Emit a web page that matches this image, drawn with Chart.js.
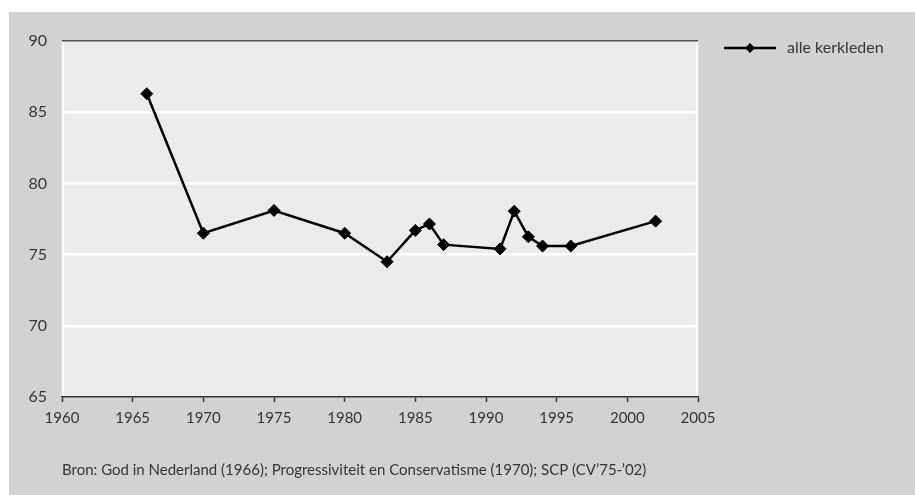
<!DOCTYPE html>
<html>
<head>
<meta charset="utf-8">
<script src="https://cdn.jsdelivr.net/npm/chart.js@4"></script>
<style>
  body { margin: 0; background: #fff; }
  #box { position: absolute; left: 9px; top: 12px; width: 906px; height: 483px; background: #d1d2d4; }
</style>
</head>
<body>
<div id="box"><canvas id="myChart"></canvas></div>
<script>
var years = [1966, 1970, 1975, 1980, 1983, 1985, 1986, 1987, 1991, 1992, 1993, 1994, 1996, 2002];
var kerkleden = [86.3, 76.5, 78.1, 76.5, 74.5, 76.7, 77.15, 75.7, 75.4, 78.05, 76.25, 75.6, 75.6, 77.35];
var seriesName = 'alle kerkleden';
var sourceText = 'Bron: God in Nederland (1966); Progressiviteit en Conservatisme (1970); SCP (CV\u201975-\u201902)';

var points = years.map(function (y, i) { return { x: y, y: kerkleden[i] }; });
var textColor = '#333';
var font = 'Lato';

var extras = {
  id: 'extras',
  beforeDraw: function (chart) {
    var c = chart.ctx, a = chart.chartArea;
    c.save();
    c.fillStyle = '#eaebeb';
    c.fillRect(a.left, a.top, a.right - a.left, a.bottom - a.top);
    c.restore();
  },
  beforeDatasetsDraw: function (chart) {
    var c = chart.ctx, a = chart.chartArea;
    c.save();
    c.strokeStyle = '#fff';
    c.lineWidth = 2.5;
    c.beginPath();
    c.moveTo(a.left + 1, a.top + 1); c.lineTo(a.left + 1, a.bottom - 1);
    c.moveTo(a.right - 1, a.top + 1); c.lineTo(a.right - 1, a.bottom - 1);
    c.stroke();
    c.restore();
  },
  afterDraw: function (chart) {
    var c = chart.ctx;
    c.save();
    // legend
    c.strokeStyle = '#000';
    c.lineWidth = 2.5;
    c.beginPath();
    c.moveTo(715, 36);
    c.lineTo(767, 36);
    c.stroke();
    c.fillStyle = '#000';
    c.beginPath();
    c.moveTo(741, 31); c.lineTo(746, 36); c.lineTo(741, 41); c.lineTo(736, 36);
    c.closePath();
    c.fill();
    c.fillStyle = textColor;
    c.font = '16px ' + font;
    c.textBaseline = 'middle';
    c.fillText(seriesName, 778, 36);
    // source
    c.font = '15px ' + font;
    c.fillText(sourceText, 53, 458);
    c.restore();
  }
};

var ctx = document.getElementById('myChart').getContext('2d');
var myChart = new Chart(ctx, {
  type: 'line',
  data: {
    datasets: [{
      label: seriesName,
      data: points,
      borderColor: '#000',
      backgroundColor: '#000',
      borderWidth: 2.5,
      pointStyle: 'rectRot',
      pointRadius: 6,
      pointBorderWidth: 1,
      tension: 0
    }]
  },
  options: {
    responsive: true,
    maintainAspectRatio: false,
    animation: false,
    layout: { padding: { left: 0, top: 29, right: 217, bottom: 68 } },
    plugins: { legend: { display: false }, tooltip: { enabled: false } },
    scales: {
      x: {
        type: 'linear',
        min: 1960,
        max: 2005,
        afterFit: function (s) { s.height = 30; },
        ticks: { stepSize: 5, color: textColor, font: { family: font, size: 15 }, padding: 7,
          callback: function (v) { return String(v); } },
        grid: {
          color: 'rgba(0,0,0,0)',
          tickColor: '#333',
          tickLength: 5,
          tickWidth: 1.5
        },
        border: { color: '#333', width: 1.5, z: 1 }
      },
      y: {
        min: 65,
        max: 90,
        afterFit: function (s) { s.width = 53; },
        ticks: { stepSize: 5, color: textColor, font: { family: font, size: 16 }, padding: 15 },
        grid: {
          drawTicks: false,
          color: function (c) {
            if (!c.tick) return '#fff';
            if (c.tick.value === 90) return '#555';
            if (c.tick.value === 65) return 'rgba(0,0,0,0)';
            return '#fff';
          },
          lineWidth: function (c) { return (c.tick && c.tick.value === 90) ? 1.5 : 2.5; }
        },
        border: { display: false }
      }
    }
  },
  plugins: [extras]
});
</script>
</body>
</html>
